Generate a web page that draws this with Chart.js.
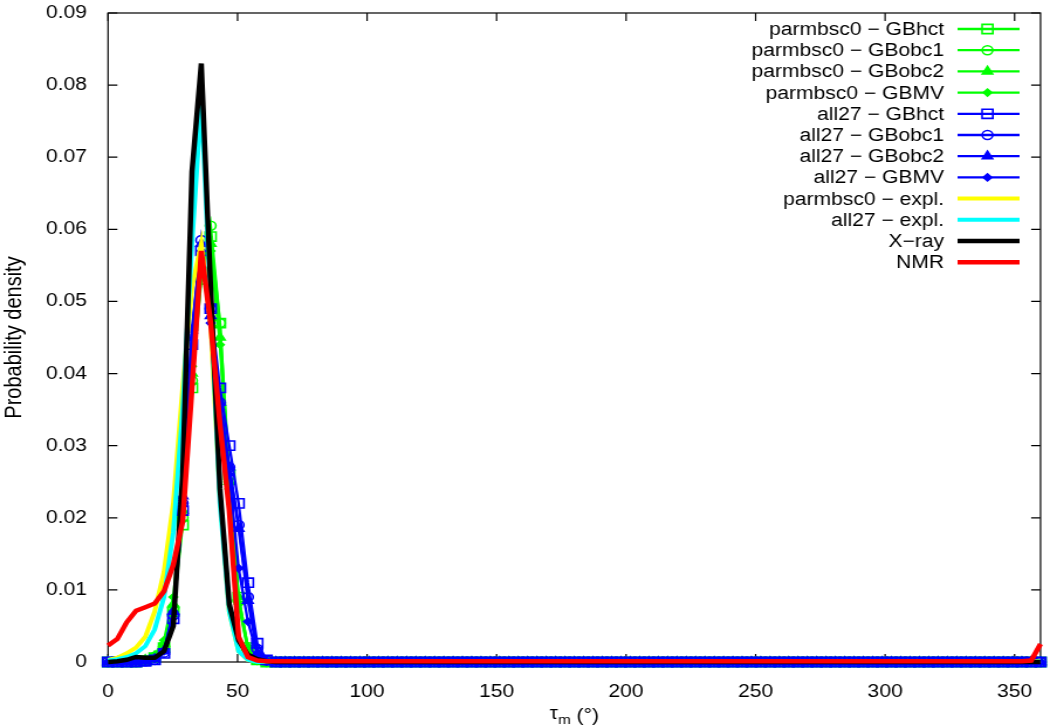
<!DOCTYPE html>
<html>
<head>
<meta charset="utf-8">
<title>tau_m probability density</title>
<script src="https://cdn.jsdelivr.net/npm/chart.js"></script>
<style>
body { margin: 0; background: white; }
</style>
</head>
<body>
<!-- drawn narrow and stretched sideways, like the original figure -->
<canvas id="tauChart" width="897" height="727" style="width:1050px;height:727px;display:block"></canvas>
<script>
// pseudorotation angle bins (degrees)
const tau = [0,3.6,7.2,10.8,14.4,18,21.6,25.2,28.8,32.4,
  36,39.6,43.2,46.8,50.4,54,57.6,61.2,64.8,68.4,
  72,75.6,79.2,82.8,86.4,90,93.6,97.2,100.8,104.4,
  108,111.6,115.2,118.8,122.4,126,129.6,133.2,136.8,140.4,
  144,147.6,151.2,154.8,158.4,162,165.6,169.2,172.8,176.4,
  180,183.6,187.2,190.8,194.4,198,201.6,205.2,208.8,212.4,
  216,219.6,223.2,226.8,230.4,234,237.6,241.2,244.8,248.4,
  252,255.6,259.2,262.8,266.4,270,273.6,277.2,280.8,284.4,
  288,291.6,295.2,298.8,302.4,306,309.6,313.2,316.8,320.4,
  324,327.6,331.2,334.8,338.4,342,345.6,349.2,352.8,356.4,
  360];

// first line: 0 .. 61.2 deg, then 64.8 .. 356.4 deg, then 360 deg
const bscHct = [0,0,0,0,0.0002,0.0006,0.002,0.007,0.019,0.038,0.054,0.059,0.047,0.026,0.009,0.002,0.0003,0,
  0,0,
  0,0,0,0,0,0,0,0,0,0, 0,0,0,0,0,0,0,0,0,0, 0,0,0,0,0,0,0,0,0,0, 0,0,0,0,0,0,0,0,0,0,
  0,0,0,0,0,0,0,0,0,0, 0,0,0,0,0,0,0,0,0,0, 0,0,0,0,0,0,0,0,0,0, 0,0,0,0,0,0,0,0,0,0,
  0];
const bscObc1 = [0,0,0,0,0.0002,0.0007,0.0022,0.0075,0.02,0.039,0.053,0.0605,0.047,0.025,0.0085,0.0018,0.0003,0,
  0,0,
  0,0,0,0,0,0,0,0,0,0, 0,0,0,0,0,0,0,0,0,0, 0,0,0,0,0,0,0,0,0,0, 0,0,0,0,0,0,0,0,0,0,
  0,0,0,0,0,0,0,0,0,0, 0,0,0,0,0,0,0,0,0,0, 0,0,0,0,0,0,0,0,0,0, 0,0,0,0,0,0,0,0,0,0,
  0];
const bscObc2 = [0,0,0,0,0.0003,0.0008,0.0025,0.008,0.021,0.04,0.055,0.058,0.045,0.025,0.009,0.002,0.0003,0,
  0,0,
  0,0,0,0,0,0,0,0,0,0, 0,0,0,0,0,0,0,0,0,0, 0,0,0,0,0,0,0,0,0,0, 0,0,0,0,0,0,0,0,0,0,
  0,0,0,0,0,0,0,0,0,0, 0,0,0,0,0,0,0,0,0,0, 0,0,0,0,0,0,0,0,0,0, 0,0,0,0,0,0,0,0,0,0,
  0];
const bscMV = [0,0,0,0,0.0003,0.001,0.003,0.009,0.022,0.041,0.056,0.057,0.044,0.024,0.008,0.0017,0.0002,0,
  0,0,
  0,0,0,0,0,0,0,0,0,0, 0,0,0,0,0,0,0,0,0,0, 0,0,0,0,0,0,0,0,0,0, 0,0,0,0,0,0,0,0,0,0,
  0,0,0,0,0,0,0,0,0,0, 0,0,0,0,0,0,0,0,0,0, 0,0,0,0,0,0,0,0,0,0, 0,0,0,0,0,0,0,0,0,0,
  0];

const c27Hct = [0,0,0,0,0.0001,0.0003,0.0012,0.006,0.021,0.044,0.057,0.049,0.038,0.030,0.022,0.011,0.0026,0.0003,
  0,0,
  0,0,0,0,0,0,0,0,0,0, 0,0,0,0,0,0,0,0,0,0, 0,0,0,0,0,0,0,0,0,0, 0,0,0,0,0,0,0,0,0,0,
  0,0,0,0,0,0,0,0,0,0, 0,0,0,0,0,0,0,0,0,0, 0,0,0,0,0,0,0,0,0,0, 0,0,0,0,0,0,0,0,0,0,
  0];
const c27Obc1 = [0,0,0,0,0.0001,0.0003,0.0013,0.0065,0.022,0.046,0.0585,0.049,0.036,0.027,0.019,0.009,0.0018,0.0002,
  0,0,
  0,0,0,0,0,0,0,0,0,0, 0,0,0,0,0,0,0,0,0,0, 0,0,0,0,0,0,0,0,0,0, 0,0,0,0,0,0,0,0,0,0,
  0,0,0,0,0,0,0,0,0,0, 0,0,0,0,0,0,0,0,0,0, 0,0,0,0,0,0,0,0,0,0, 0,0,0,0,0,0,0,0,0,0,
  0];
const c27Obc2 = [0,0,0,0,0.0001,0.0004,0.0015,0.007,0.023,0.046,0.058,0.048,0.036,0.027,0.0185,0.0085,0.0012,0.0001,
  0,0,
  0,0,0,0,0,0,0,0,0,0, 0,0,0,0,0,0,0,0,0,0, 0,0,0,0,0,0,0,0,0,0, 0,0,0,0,0,0,0,0,0,0,
  0,0,0,0,0,0,0,0,0,0, 0,0,0,0,0,0,0,0,0,0, 0,0,0,0,0,0,0,0,0,0, 0,0,0,0,0,0,0,0,0,0,
  0];
const c27MV = [0,0,0,0,0.0001,0.0004,0.0015,0.007,0.022,0.045,0.057,0.047,0.035,0.026,0.013,0.0056,0.001,0.0001,
  0,0,
  0,0,0,0,0,0,0,0,0,0, 0,0,0,0,0,0,0,0,0,0, 0,0,0,0,0,0,0,0,0,0, 0,0,0,0,0,0,0,0,0,0,
  0,0,0,0,0,0,0,0,0,0, 0,0,0,0,0,0,0,0,0,0, 0,0,0,0,0,0,0,0,0,0, 0,0,0,0,0,0,0,0,0,0,
  0];

const bscExpl = [0.0003,0.0006,0.0012,0.002,0.0035,0.007,0.0125,0.022,0.038,0.052,0.058,0.047,0.023,0.007,0.0015,0.0003,0.0001,0,
  0,0,
  0,0,0,0,0,0,0,0,0,0, 0,0,0,0,0,0,0,0,0,0, 0,0,0,0,0,0,0,0,0,0, 0,0,0,0,0,0,0,0,0,0,
  0,0,0,0,0,0,0,0,0,0, 0,0,0,0,0,0,0,0,0,0, 0,0,0,0,0,0,0,0,0,0, 0,0,0,0,0,0,0,0,0,0,
  0.0002];
const c27Expl = [0.0002,0.0004,0.0007,0.0012,0.0022,0.0045,0.009,0.018,0.035,0.058,0.078,0.05,0.022,0.007,0.0015,0.0003,0,0,
  0,0,
  0,0,0,0,0,0,0,0,0,0, 0,0,0,0,0,0,0,0,0,0, 0,0,0,0,0,0,0,0,0,0, 0,0,0,0,0,0,0,0,0,0,
  0,0,0,0,0,0,0,0,0,0, 0,0,0,0,0,0,0,0,0,0, 0,0,0,0,0,0,0,0,0,0, 0,0,0,0,0,0,0,0,0,0,
  0.0001];
const xray = [0,0.0001,0.0003,0.0007,0.0006,0.0006,0.0015,0.005,0.026,0.068,0.083,0.052,0.024,0.008,0.003,0.001,0.0004,0.0001,
  0,0,
  0,0,0,0,0,0,0,0,0,0, 0,0,0,0,0,0,0,0,0,0, 0,0,0,0,0,0,0,0,0,0, 0,0,0,0,0,0,0,0,0,0,
  0,0,0,0,0,0,0,0,0,0, 0,0,0,0,0,0,0,0,0,0, 0,0,0,0,0,0,0,0,0,0, 0,0,0,0,0,0,0,0,0,0,
  0];
const nmr = [0.0023,0.0032,0.0055,0.0071,0.0076,0.0081,0.0098,0.0135,0.0195,0.038,0.057,0.047,0.033,0.021,0.0035,0.0007,0.0002,0.0001,
  0.0001,0.0001,
  0.0001,0.0001,0.0001,0.0001,0.0001,0.0001,0.0001,0.0001,0.0001,0.0001, 0.0001,0.0001,0.0001,0.0001,0.0001,0.0001,0.0001,0.0001,0.0001,0.0001,
  0.0001,0.0001,0.0001,0.0001,0.0001,0.0001,0.0001,0.0001,0.0001,0.0001, 0.0001,0.0001,0.0001,0.0001,0.0001,0.0001,0.0001,0.0001,0.0001,0.0001,
  0.0001,0.0001,0.0001,0.0001,0.0001,0.0001,0.0001,0.0001,0.0001,0.0001, 0.0001,0.0001,0.0001,0.0001,0.0001,0.0001,0.0001,0.0001,0.0001,0.0001,
  0.0001,0.0001,0.0001,0.0001,0.0001,0.0001,0.0001,0.0001,0.0001,0.0001, 0.0001,0.0001,0.0001,0.0001,0.0001,0.0001,0.0001,0.0001,0.0001,0.0002,
  0.0025];

const xTicks = [0, 50, 100, 150, 200, 250, 300, 350];
const yTicks = [0, 0.01, 0.02, 0.03, 0.04, 0.05, 0.06, 0.07, 0.08, 0.09];

const GREEN = '#00ff00', BLUE = '#0000ff';
const CLEAR = 'rgba(0,0,0,0)';

// label, data, colour, line width, point style, point radius, filled
const series = [
  ['parmbsc0 \u2212 GBhct', bscHct, GREEN, 2.3, 'rect', 6.5, false],
  ['parmbsc0 \u2212 GBobc1', bscObc1, GREEN, 2.3, 'circle', 4.5, false],
  ['parmbsc0 \u2212 GBobc2', bscObc2, GREEN, 2.3, 'triangle', 5, true],
  ['parmbsc0 \u2212 GBMV', bscMV, GREEN, 2.3, 'rectRot', 3.5, true],
  ['all27 \u2212 GBhct', c27Hct, BLUE, 2.3, 'rect', 6.5, false],
  ['all27 \u2212 GBobc1', c27Obc1, BLUE, 2.3, 'circle', 4.5, false],
  ['all27 \u2212 GBobc2', c27Obc2, BLUE, 2.3, 'triangle', 5, true],
  ['all27 \u2212 GBMV', c27MV, BLUE, 2.3, 'rectRot', 3.5, true],
  ['parmbsc0 \u2212 expl.', bscExpl, '#ffff00', 4, false, 0, false],
  ['all27 \u2212 expl.', c27Expl, '#00ffff', 4, false, 0, false],
  ['X\u2212ray', xray, '#000000', 4.5, false, 0, false],
  ['NMR', nmr, '#ff0000', 4.5, false, 0, false]
];

Chart.defaults.font.family = '"Liberation Sans", Arial, sans-serif';
Chart.defaults.font.size = 18;
Chart.defaults.color = '#000';

const datasets = series.map((s, i) => ({
  label: s[0],
  data: s[1],
  borderColor: s[2],
  backgroundColor: s[2],
  borderWidth: s[3],
  pointStyle: s[4] || 'circle',
  pointRadius: s[5],
  pointBorderWidth: 1.6,
  pointBorderColor: s[2],
  pointBackgroundColor: s[6] ? s[2] : CLEAR,
  tension: 0,
  clip: false,
  order: series.length - 1 - i
}));

const boxAndKey = {
  id: 'boxAndKey',
  beforeDatasetsDraw(chart) {
    const {ctx, chartArea: a, scales: {x, y}} = chart;
    ctx.save();
    ctx.strokeStyle = '#000';
    ctx.lineWidth = 1.2;
    ctx.strokeRect(a.left, a.top, a.right - a.left, a.bottom - a.top);
    ctx.beginPath();
    xTicks.forEach(v => {
      const px = x.getPixelForValue(v);
      ctx.moveTo(px, a.bottom); ctx.lineTo(px, a.bottom - 8);
      ctx.moveTo(px, a.top); ctx.lineTo(px, a.top + 8);
    });
    yTicks.forEach(v => {
      const py = y.getPixelForValue(v);
      ctx.moveTo(a.left, py); ctx.lineTo(a.left + 8, py);
      ctx.moveTo(a.right, py); ctx.lineTo(a.right - 8, py);
    });
    ctx.stroke();
    ctx.restore();
  },
  afterDraw(chart) {
    const {ctx, chartArea: a} = chart;
    ctx.save();
    // key, top right
    ctx.font = '18px "Liberation Sans", Arial, sans-serif';
    ctx.textAlign = 'right';
    ctx.textBaseline = 'middle';
    series.forEach((s, i) => {
      const yy = 29 + i * 21.2;
      ctx.fillStyle = '#000';
      ctx.fillText(s[0], 806.5, yy + 1);
      ctx.strokeStyle = s[2];
      ctx.lineWidth = s[3];
      ctx.beginPath();
      ctx.moveTo(818, yy); ctx.lineTo(871, yy);
      ctx.stroke();
      if (s[4]) {
        ctx.lineWidth = 1.6;
        ctx.fillStyle = s[6] ? s[2] : CLEAR;
        Chart.helpers.drawPoint(ctx, {pointStyle: s[4], radius: s[5], borderWidth: 1.6, rotation: 0}, 843.6, yy);
      }
    });
    // x axis title with subscript
    const cx = (a.left + a.right) / 2;
    const ty = 721;
    ctx.fillStyle = '#000';
    ctx.textAlign = 'left';
    ctx.textBaseline = 'alphabetic';
    ctx.font = '18px "Liberation Sans", Arial, sans-serif';
    const w1 = ctx.measureText('\u03c4').width;
    const w3 = ctx.measureText(' (\u00b0)').width;
    ctx.font = '13px "Liberation Sans", Arial, sans-serif';
    const w2 = ctx.measureText('m').width;
    let sx = cx - (w1 + w2 + w3) / 2;
    ctx.font = '18px "Liberation Sans", Arial, sans-serif';
    ctx.fillText('\u03c4', sx, ty - 2);
    ctx.font = '13px "Liberation Sans", Arial, sans-serif';
    ctx.fillText('m', sx + w1, ty + 3);
    ctx.font = '18px "Liberation Sans", Arial, sans-serif';
    ctx.fillText(' (\u00b0)', sx + w1 + w2, ty);
    ctx.restore();
  }
};

new Chart('tauChart', {
  type: 'line',
  data: { labels: tau, datasets: datasets },
  options: {
    responsive: false,
    animation: false,
    layout: { padding: { left: 0, right: 5.5, top: 13, bottom: 0 } },
    plugins: { legend: { display: false }, tooltip: { enabled: false } },
    scales: {
      x: {
        type: 'linear',
        min: 0, max: 360,
        grid: { display: false },
        border: { display: false },
        ticks: { stepSize: 50, padding: 11, maxRotation: 0, autoSkip: false },
        afterBuildTicks: s => { s.ticks = xTicks.map(v => ({ value: v })); },
        afterFit: s => { s.height = 65; s.paddingLeft = 0; s.paddingRight = 0; }
      },
      y: {
        min: 0, max: 0.09,
        grid: { display: false },
        border: { display: false },
        ticks: {
          padding: 10,
          callback: v => v === 0 ? '0' : v.toFixed(2)
        },
        afterBuildTicks: s => { s.ticks = yTicks.map(v => ({ value: v })); },
        title: { display: true, text: 'Probability density', padding: 0, font: { size: 20 } },
        afterFit: s => { s.width = 92.3; s.paddingTop = 0; s.paddingBottom = 0; }
      }
    }
  },
  plugins: [boxAndKey]
});
</script>
</body>
</html>
